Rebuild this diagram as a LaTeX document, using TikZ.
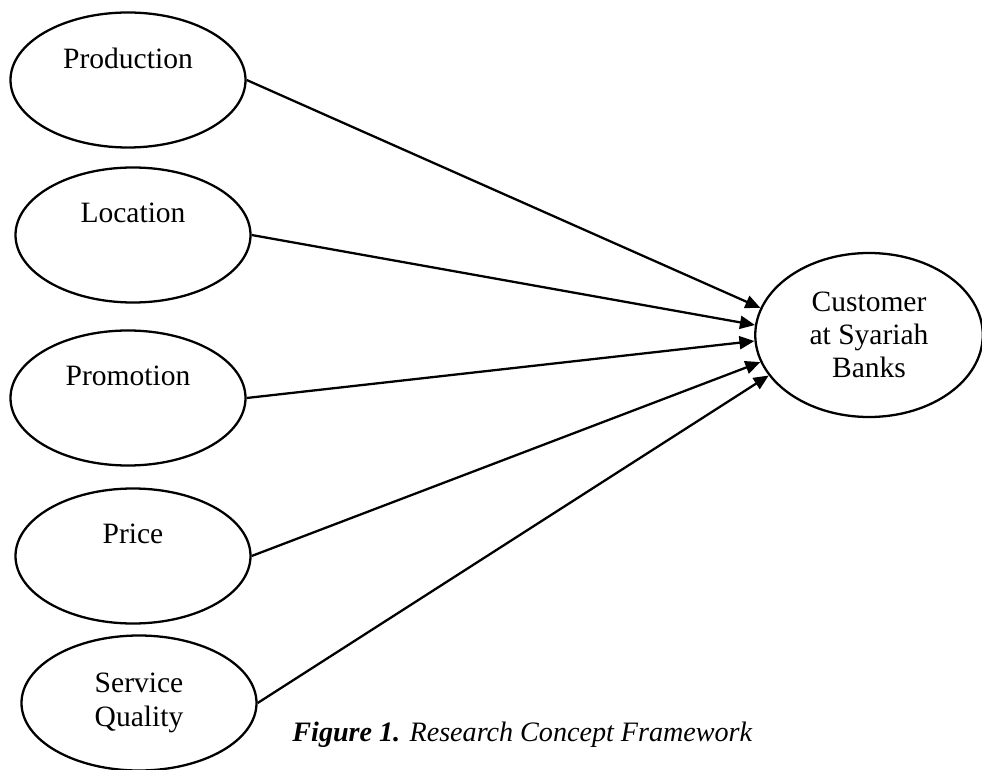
\documentclass[tikz,border=0pt]{standalone}
\usepackage{fontspec}
\setmainfont{Liberation Serif}
\usetikzlibrary{
    shapes.geometric,
    arrows.meta,
    positioning
}
\def\figW{19.64}
\def\figH{15.38}
\tikzset{
    factorNode/.style={
        ellipse,
        draw=black,
        line width=1.3pt,
        minimum width=4.7cm,
        minimum height=2.7cm,
        align=center,
        inner sep=0pt,
        font=\fontsize{16.8}{19.3}\selectfont
    },
    outcomeNode/.style={
        factorNode,
        minimum width=4.55cm,
        minimum height=3.28cm,
        font=\fontsize{16.8}{18.8}\selectfont
    },
    connector/.style={
        line width=1.3pt,
        draw=black,
        -{Triangle[length=0.3cm, width=0.26cm]}
    },
    caption/.style={
        font=\fontsize{16}{19}\selectfont,
        anchor=center
    }
}

\begin{document}
\begin{tikzpicture}
    \useasboundingbox (0,0) rectangle (\figW, \figH);

    % Independent variables
    \node[factorNode] (production) at (2.56, 13.78) {Production\\\strut};
    \node[factorNode] (location) at (2.66, 10.68) {Location\\\strut};
    \node[factorNode] (promotion) at (2.56, 7.42) {Promotion\\\strut};
    \node[factorNode] (price) at (2.66, 4.26) {Price\\\strut};
    \node[factorNode] (service) at (2.78, 1.32) {Service\\Quality};

    % Dependent variable
    \node[outcomeNode] (customer) at (17.38, 8.68) {Customer\\at Syariah\\Banks};

    % Paths
    \draw[connector] (production.east) -- (customer.166);
    \draw[connector] (location.east) -- (customer.175);
    \draw[connector] (promotion.east) -- (customer.183.5);
    \draw[connector] (price.east) -- (customer.194);
    \draw[connector] (service.east) -- (customer.202);

    \node[caption] (title) at (10.45, 0.68) {\textbf{\textit{Figure 1.}} \textit{Research Concept Framework}};
\end{tikzpicture}
\end{document}
